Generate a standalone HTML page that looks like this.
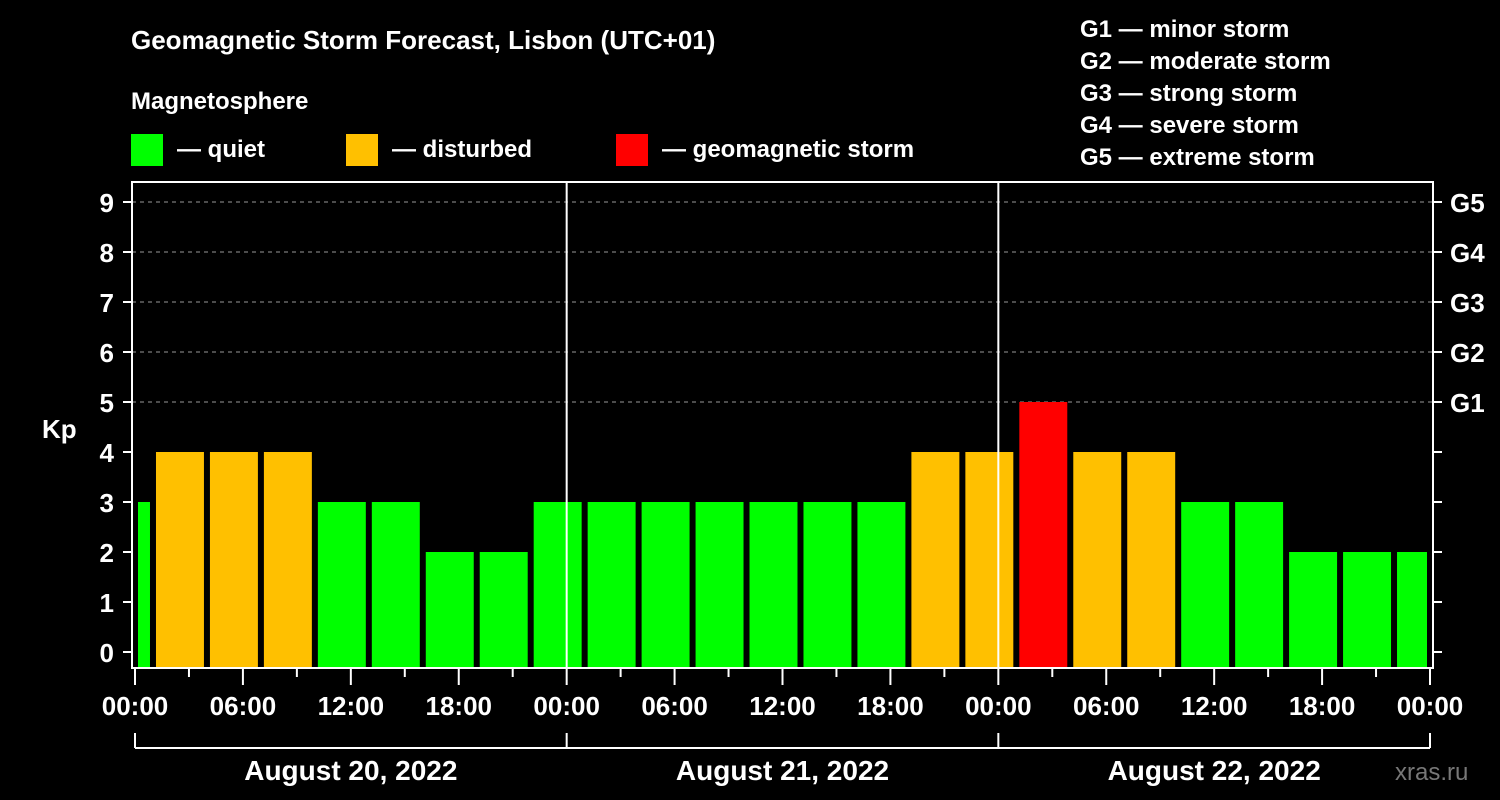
<!DOCTYPE html>
<html><head><meta charset="utf-8"><style>
body{margin:0;background:#000;width:1500px;height:800px;overflow:hidden}
svg{display:block;font-family:"Liberation Sans",Arial,sans-serif;font-weight:bold}
</style></head><body>
<svg id="chart" width="1500" height="800" viewBox="0 0 1500 800">
<rect width="1500" height="800" fill="#000"/>
<text x="131" y="49" fill="#fff" font-size="26">Geomagnetic Storm Forecast, Lisbon (UTC+01)</text>
<text x="131" y="109" fill="#fff" font-size="24">Magnetosphere</text>
<g><rect x="131" y="134" width="32" height="32" fill="#00ff00"/><text x="177" y="157" fill="#fff" font-size="24">— quiet</text></g>
<g><rect x="346" y="134" width="32" height="32" fill="#ffc000"/><text x="392" y="157" fill="#fff" font-size="24">— disturbed</text></g>
<g><rect x="616" y="134" width="32" height="32" fill="#ff0000"/><text x="662" y="157" fill="#fff" font-size="24">— geomagnetic storm</text></g>
<g fill="#fff" font-size="24">
<text x="1080" y="37">G1 — minor storm</text>
<text x="1080" y="69">G2 — moderate storm</text>
<text x="1080" y="101">G3 — strong storm</text>
<text x="1080" y="133">G4 — severe storm</text>
<text x="1080" y="165">G5 — extreme storm</text>
</g>
<text x="42" y="438" fill="#fff" font-size="26">Kp</text>
<text x="1395" y="780" fill="#777" font-size="24" font-weight="normal">xras.ru</text>
<g id="grid"></g><g id="bars"></g><g id="axes"></g>
</svg>
<script>
const binStarts=[0,1,4,7,10,13,16,19,22,25,28,31,34,37,40,43,46,49,52,55,58,61,64,67,70];
const binEnds=[1,4,7,10,13,16,19,22,25,28,31,34,37,40,43,46,49,52,55,58,61,64,67,70,72];
const kpValues=[3,4,4,4,3,3,2,2,3,3,3,3,3,3,3,4,4,5,4,4,3,3,2,2,2];
const yTicks=[0,1,2,3,4,5,6,7,8,9];
const gLabels=["G1","G2","G3","G4","G5"];
const gLevels=[5,6,7,8,9];
const timeLabels=["00:00","06:00","12:00","18:00"];
const dateLabels=["August 20, 2022","August 21, 2022","August 22, 2022"];
const NS="http://www.w3.org/2000/svg";
const X0=135,X1=1430,HOURS=72,L=132,R=1433,T=182,B=668;
const x=h=>X0+(X1-X0)*h/HOURS;
const y=k=>652-50*k;
function mk(tag,attrs,parent,txt){const e=document.createElementNS(NS,tag);for(const k in attrs)e.setAttribute(k,attrs[k]);if(txt!==undefined)e.textContent=txt;parent.appendChild(e);return e;}
const grid=document.getElementById('grid'),bars=document.getElementById('bars'),axes=document.getElementById('axes');
gLevels.forEach((lv,i)=>{
 const l=mk('line',{x1:L,x2:R,y1:y(lv),y2:y(lv),stroke:'#999','stroke-dasharray':'4,4','stroke-width':1},grid);
 
 
 const t=mk('text',{x:1450,y:y(lv)+10,fill:'#fff','font-size':26},axes,gLabels[i]);
 
 
});
kpValues.forEach((v,i)=>{
 const x0=Math.max(x(binStarts[i])+3,L+4),x1=x(binEnds[i])-3;
 const c=v>=5?'#ff0000':v>=4?'#ffc000':'#00ff00';
 const r=mk('rect',{x:x0,y:y(v),width:x1-x0,height:B-y(v),fill:c},bars);
 
 
});
[1,2].forEach(d=>{const l=mk('line',{x1:x(24*d),x2:x(24*d),y1:T,y2:B,stroke:'#fff','stroke-width':2},axes);
 
 });
const fr=mk('rect',{x:L,y:T,width:R-L,height:B-T,fill:'none',stroke:'#fff','stroke-width':2},axes);


yTicks.forEach(k=>{
 mk('line',{x1:123,x2:L,y1:y(k),y2:y(k),stroke:'#fff','stroke-width':2},axes);
 mk('line',{x1:R,x2:1442,y1:y(k),y2:y(k),stroke:'#fff','stroke-width':2},axes);
 const t=mk('text',{x:114,y:y(k)+10,fill:'#fff','font-size':26,'text-anchor':'end'},axes,String(k));
 
 
});
for(let h=0;h<=HOURS;h+=3){
 const major=h%6===0;
 mk('line',{x1:x(h),x2:x(h),y1:B,y2:major?685:677,stroke:'#fff','stroke-width':2},axes);
 if(major){const t=mk('text',{x:x(h),y:715,fill:'#fff','font-size':26,'text-anchor':'middle'},axes,timeLabels[(h/6)%4]);
  
  }
}
mk('line',{x1:x(0),x2:x(HOURS),y1:748,y2:748,stroke:'#fff','stroke-width':2},axes);
for(let d=0;d<=3;d++)mk('line',{x1:x(24*d),x2:x(24*d),y1:733,y2:748,stroke:'#fff','stroke-width':2},axes);
dateLabels.forEach((s,d)=>{const t=mk('text',{x:x(24*d+12),y:780,fill:'#fff','font-size':28,'text-anchor':'middle'},axes,s);
 
 });
</script>
</body></html>
